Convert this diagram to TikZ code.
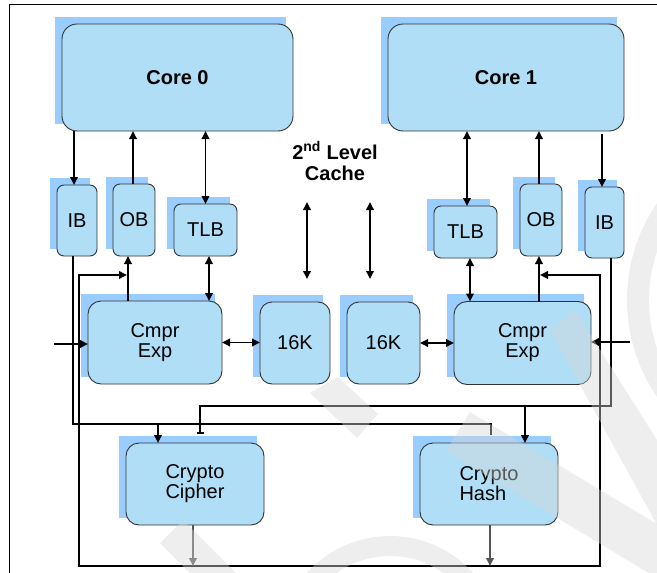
\documentclass[tikz,border=0pt]{standalone}
\usepackage{fontspec}
\setmainfont{Liberation Sans}
\usepackage{tikz}
\usetikzlibrary{arrows.meta,positioning,backgrounds}

\definecolor{blkfill}{RGB}{176,222,246}
\definecolor{blkshade}{RGB}{153,204,255}
\definecolor{outgray}{RGB}{85,85,85}

\begin{document}
\begin{tikzpicture}[
  x=1pt, y=-1pt,
  blk/.style={draw=black!80, line width=0.9pt, fill=blkfill, rounded corners=13pt,
              inner sep=0pt, outer sep=0pt, align=center,
              font=\fontsize{20}{20}\selectfont},
  sblk/.style={blk, rounded corners=7pt},
  bold/.style={font=\fontsize{20}{21}\selectfont\bfseries},
  wire/.style={line width=1.8pt},
  arr/.style={wire, -{Triangle[length=8pt,width=7.5pt]}},
  darr/.style={wire, {Triangle[length=8pt,width=7.5pt]}-{Triangle[length=8pt,width=7.5pt]}},
  oarr/.style={arr, draw=outgray},
  wm/.style={fill=black!16, draw=none, opacity=0.42}
]
\useasboundingbox (0,0) rectangle (657,573);

% frame
\draw[line width=1.3pt] (657,4.5) -| (9.5,573);

% cores
\node[blk, bold, rounded corners=15pt, minimum width=231pt, minimum height=107pt] (core0) at (177.5,77.5) {Core 0};
\node[blk, bold, rounded corners=15pt, minimum width=236pt, minimum height=107pt] (core1) at (506,77.5) {Core 1};
\node[bold, align=center, inner sep=0pt] (l2) at (335,161) {2\textsuperscript{nd} Level\\Cache};

% buffers
\node[sblk, minimum width=40pt, minimum height=71pt] (ib0)  at (77,220.5)   {IB};
\node[sblk, minimum width=42pt, minimum height=72pt] (ob0)  at (134,220)    {OB};
\node[sblk, minimum width=63pt, minimum height=52pt] (tlb0) at (205.5,230)  {TLB};
\node[sblk, minimum width=63pt, minimum height=52pt] (tlb1) at (465.5,232)  {TLB};
\node[sblk, minimum width=42pt, minimum height=72pt] (ob1)  at (541,220)    {OB};
\node[sblk, minimum width=39pt, minimum height=71pt] (ib1)  at (604.5,222.5) {IB};

% compression and cache row
\node[blk, minimum width=134pt, minimum height=83pt] (cmpr0) at (155,342.5) {Cmpr\\Exp};
\node[blk, rounded corners=12pt, minimum width=70pt, minimum height=82pt] (k16a) at (295,343) {16K};
\node[blk, rounded corners=12pt, minimum width=73pt, minimum height=82pt, right=17pt of k16a] (k16b) {16K};
\node[blk, minimum width=137pt, minimum height=83pt, right=34pt of k16b] (cmpr1) {Cmpr\\Exp};

% crypto units
\node[blk, minimum width=138pt, minimum height=82pt] (cipher) at (195,484) {Crypto\\Cipher};
\node[blk, minimum width=138pt, minimum height=82pt, align=left, right=156pt of cipher] (hash) {Crypto\\Hash};

% block shadows
\begin{scope}[on background layer]
  \foreach \b in {core0,core1,ib0,ob0,tlb0,tlb1,ob1,ib1,cmpr0,k16a,k16b,cmpr1,cipher,hash}
    \fill[blkshade] ([xshift=-7.5pt,yshift=7.5pt]\b.south west) rectangle ([xshift=-7.5pt,yshift=7.5pt]\b.north east);
\end{scope}

% free ends
\coordinate (pa1) at (307,202);
\coordinate (pa2) at (307,279);
\coordinate (pb1) at (370,202);
\coordinate (pb2) at (370,279);
\coordinate (in0) at (54,344);
\coordinate (in1) at (630,342);
\coordinate (fb0) at (127,275);
\coordinate (fb1) at (540,275);
\coordinate (bus0) at (79,566);
\coordinate (bus1) at (600,566);

% core <-> buffers
\draw[arr] ([xshift=-3pt]ib0.north |- core0.south) -- ([xshift=-3pt]ib0.north);
\draw[arr] ([xshift=-1pt]ob0.north) -- ([xshift=-1pt]ob0.north |- core0.south);
\draw[darr] (tlb0.north |- core0.south) -- (tlb0.north);
\draw[darr] ([xshift=1.5pt]tlb1.north |- core1.south) -- ([xshift=1.5pt]tlb1.north);
\draw[arr] ([xshift=-2pt]ob1.north) -- ([xshift=-2pt]ob1.north |- core1.south);
\draw[arr] ([xshift=-2.5pt,yshift=-3pt]ib1.north |- core1.south) -- ([xshift=-2.5pt]ib1.north);

% 2nd level cache ports
\draw[darr] (pa1) -- (pa2);
\draw[darr] (pb1) -- (pb2);

% buffers <-> compression units
\draw[arr] ([xshift=-6pt]ob0.south |- cmpr0.north) -- ([xshift=-6pt]ob0.south);
\draw[darr] ([xshift=3.5pt]tlb0.south) -- ([xshift=3.5pt]tlb0.south |- cmpr0.north);
\draw[darr] ([xshift=4.5pt]tlb1.south) -- ([xshift=4.5pt]tlb1.south |- cmpr1.north);
\draw[arr] ([xshift=-2pt]ob1.south |- cmpr1.north) -- ([xshift=-2pt]ob1.south);

% compression units <-> 16K
\draw[darr] (cmpr0.east) -- (cmpr0.east -| k16a.west);
\draw[darr] (k16b.east) -- (k16b.east -| cmpr1.west);
\draw[arr] (in0) -- (in0 -| cmpr0.west);
\draw[arr] (in1) -- (in1 -| cmpr1.east);

% return path from the crypto units
\draw[darr] (fb0) -| (bus0) -- (bus1) |- (fb1);

% input buffers -> crypto units
\draw[wire] ([xshift=-4pt]ib0.south) |- ([xshift=2pt,yshift=19pt]hash.north) -- ([xshift=2pt,yshift=8pt]hash.north);
\draw[arr] ([xshift=-37pt,yshift=19pt]cipher.north) -- ([xshift=-37pt]cipher.north);
\draw[wire, -{Bar[width=7pt]}] ([xshift=6.5pt]ib1.south) |- ([xshift=5pt,yshift=37pt]cipher.north) -- ([xshift=5pt,yshift=9pt]cipher.north);
\draw[arr] ([xshift=36pt,yshift=37pt]hash.north) -- ([xshift=36pt]hash.north);

% crypto outputs
\draw[oarr] ([xshift=-2pt]cipher.south) -- ([xshift=-2pt]cipher.south |- bus0);
\draw[oarr] ([xshift=1pt]hash.south) -- ([xshift=1pt]hash.south |- bus0);

% watermark
\fill[wm] (310,393) -- (338,377) -- (378,414) -- (357,438) -- cycle;
\fill[wm] (160,543) -- (183,520) -- (236,573) -- (190,573) -- cycle;
\fill[wm] (470,412) -- (657,524) -- (657,578) -- (446,451) -- cycle;
\fill[wm] (550,330) -- (575,310) -- (657,440) -- (657,525) -- cycle;
\draw[draw=black!16, opacity=0.42, line width=22pt] (798,300) circle (160);
\draw[draw=black!16, opacity=0.42, line width=20pt] (390,648) circle (102);
\end{tikzpicture}
\end{document}
